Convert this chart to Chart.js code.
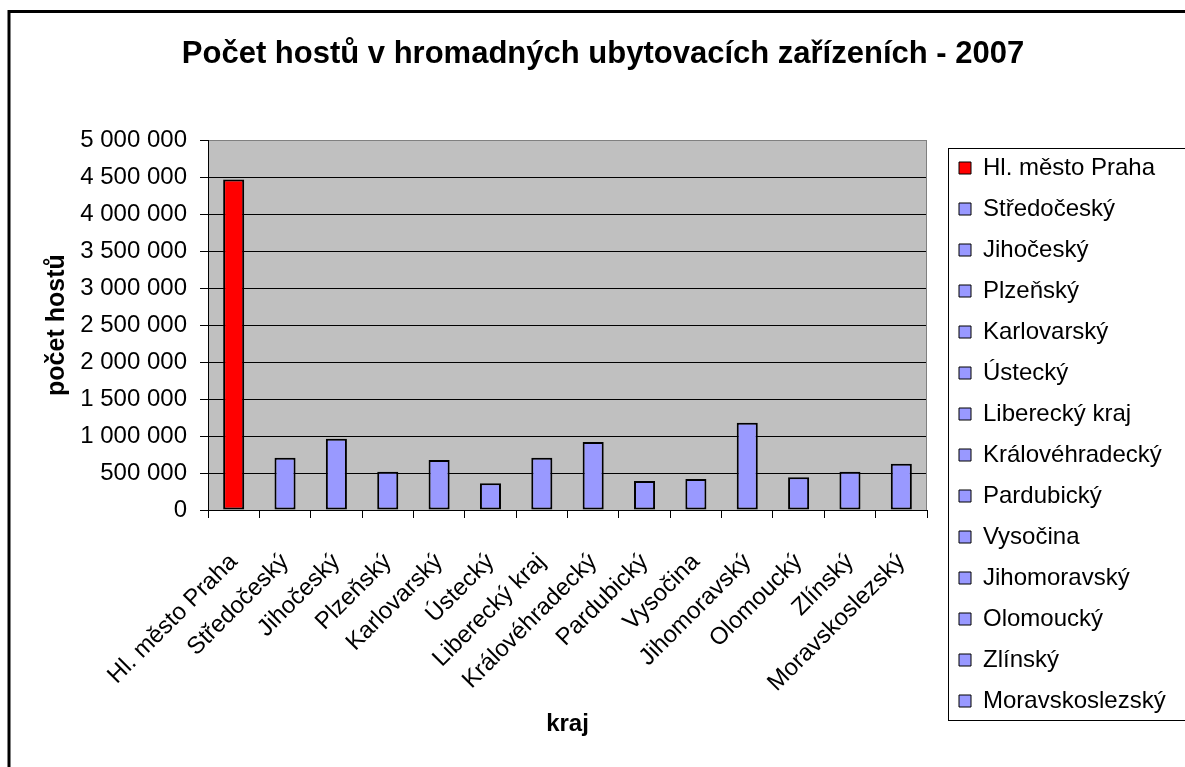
<!DOCTYPE html>
<html>
<head>
<meta charset="utf-8">
<title>Počet hostů 2007</title>
<script src="https://cdn.jsdelivr.net/npm/chart.js"></script>
<style>
  html, body { margin: 0; padding: 0; background: #fff; }
  #wrap { position: relative; width: 1185px; height: 767px; }
</style>
</head>
<body>
<div id="wrap"><canvas id="myChart"></canvas></div>
<script>
// data
const categories = ['Hl. město Praha', 'Středočeský', 'Jihočeský', 'Plzeňský', 'Karlovarský', 'Ústecký',
    'Liberecký kraj', 'Královéhradecký', 'Pardubický', 'Vysočina', 'Jihomoravský', 'Olomoucký',
    'Zlínský', 'Moravskoslezský'];
const guests = [4470000, 706000, 964000, 518000, 676000, 360000, 707000, 919000, 392000, 419000,
    1180000, 442000, 518000, 626000];
const yTickValues = [0, 500000, 1000000, 1500000, 2000000, 2500000, 3000000, 3500000, 4000000, 4500000, 5000000];

const chartTitle = 'Počet hostů v hromadných ubytovacích zařízeních - 2007';
const yTitle = 'počet hostů';
const xTitle = 'kraj';

const FONT = '"Liberation Sans", Arial, sans-serif';
const barColors = categories.map((c, i) => i == 0 ? '#ff0000' : '#9999ff');

function fmt(v) {
    return String(v).replace(/\B(?=(\d{3})+(?!\d))/g, ' ');
}

Chart.defaults.font.family = FONT;
Chart.defaults.color = '#000';

// grey plot area, legend frame and the outer frame like the Excel chart
const excelLook = {
    id: 'excelLook',
    beforeLayout(chart) {
        var lg = chart.legend;
        if (lg && !lg._fixed) {
            var fit = lg.fit.bind(lg);
            lg.fit = function () { fit(); this.width = 243; };
            lg._fixed = true;
        }
    },
    beforeDraw(chart) {
        const {ctx, chartArea: a} = chart;
        ctx.save();
        ctx.fillStyle = '#c0c0c0';
        ctx.fillRect(a.left, a.top, a.right - a.left, a.bottom - a.top);
        ctx.restore();
    },
    beforeDatasetsDraw(chart) {
        const {ctx, chartArea: a} = chart;
        ctx.save();
        ctx.strokeStyle = '#808080';
        ctx.lineWidth = 1;
        ctx.beginPath();
        ctx.moveTo(a.right - 0.5, a.top);
        ctx.lineTo(a.right - 0.5, a.bottom);
        ctx.stroke();
        ctx.restore();
    },
    afterDraw(chart) {
        const ctx = chart.ctx;
        const hb = chart.legend.legendHitBoxes;
        ctx.save();
        if (hb && hb.length) {
            var first = hb[0], last = hb[hb.length - 1];
            var left = Math.round(first.left - 11) + 0.5;
            var top = Math.round(first.top - 8) + 0.5;
            var bottom = Math.round(last.top + last.height + 7) + 0.5;
            ctx.strokeStyle = '#000';
            ctx.lineWidth = 1;
            ctx.strokeRect(left, top, chart.width + 20 - left, bottom - top);
        }
        ctx.strokeStyle = '#000';
        ctx.lineWidth = 3;
        ctx.beginPath();
        ctx.moveTo(9, chart.height + 5);
        ctx.lineTo(9, 11.5);
        ctx.lineTo(chart.width + 5, 11.5);
        ctx.stroke();
        ctx.restore();
    }
};

const myChart = new Chart(document.getElementById('myChart'), {
    type: 'bar',
    data: {
        labels: categories,
        datasets: [{
            label: yTitle,
            data: guests,
            backgroundColor: barColors,
            borderColor: '#000',
            borderWidth: 2,
            borderSkipped: false,
            barPercentage: 0.41,
            categoryPercentage: 1
        }]
    },
    options: {
        responsive: true,
        maintainAspectRatio: false,
        animation: false,
        layout: { padding: { left: 21, right: 0, top: 0, bottom: 0 } },
        plugins: {
            title: {
                display: true,
                text: chartTitle,
                color: '#000',
                font: { family: FONT, size: 31, weight: 'bold' },
                padding: { top: 36, bottom: 67 }
            },
            legend: {
                position: 'right',
                align: 'start',
                onClick: null,
                title: { display: true, text: ' ', font: { size: 10 }, padding: { top: 127, bottom: 0 } },
                labels: {
                    font: { family: FONT, size: 24 },
                    color: '#000',
                    boxWidth: 12,
                    boxHeight: 12,
                    padding: 17,
                    generateLabels: () => categories.map((c, i) => ({
                        text: c,
                        fillStyle: barColors[i],
                        strokeStyle: '#000',
                        lineWidth: 1,
                        hidden: false,
                        index: i,
                        datasetIndex: 0
                    }))
                }
            },
            tooltip: { enabled: false }
        },
        scales: {
            x: {
                grid: { drawOnChartArea: false, color: '#000', tickLength: 8, offset: true },
                border: { color: '#000', width: 1 },
                ticks: {
                    font: { family: FONT, size: 24 },
                    color: '#000',
                    minRotation: 45,
                    maxRotation: 45,
                    autoSkip: false,
                    padding: 30
                },
                title: {
                    display: true,
                    text: xTitle,
                    color: '#000',
                    font: { family: FONT, size: 24, weight: 'bold' },
                    padding: { top: 0, bottom: 28 }
                },
                afterFit: s => { s.height = 257; }
            },
            y: {
                min: 0,
                max: 5000000,
                afterBuildTicks: s => { s.ticks = yTickValues.map(v => ({ value: v })); },
                grid: {
                    color: c => (c.tick && c.tick.value == 5000000) ? '#808080' : '#000',
                    tickColor: '#000',
                    tickLength: 8
                },
                border: { color: '#000', width: 1 },
                ticks: {
                    font: { family: FONT, size: 24 },
                    color: '#000',
                    padding: 13,
                    callback: v => fmt(v)
                },
                title: {
                    display: true,
                    text: yTitle,
                    color: '#000',
                    font: { family: FONT, size: 25, weight: 'bold' },
                    padding: { top: 21, bottom: 0 }
                },
                afterFit: s => { s.width = 187; }
            },
            // empty axis, only keeps the gap between plot and legend
            y2: {
                position: 'right',
                grid: { display: false },
                border: { display: false },
                ticks: { display: false },
                afterFit: s => { s.width = 15; }
            }
        }
    },
    plugins: [excelLook]
});
</script>
</body>
</html>
